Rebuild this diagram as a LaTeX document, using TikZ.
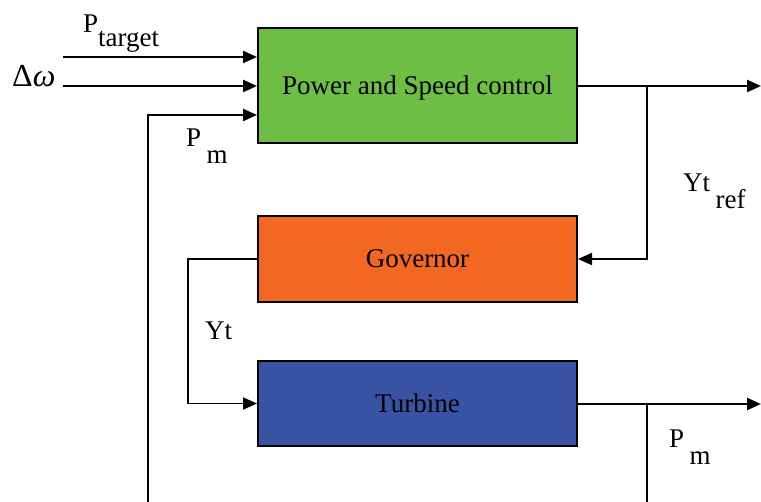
\documentclass[tikz,border=0pt]{standalone}
\usepackage{fontspec}
\setmainfont{Liberation Serif}
\usetikzlibrary{arrows.meta}

\definecolor{pscgreen}{HTML}{6DBE45}
\definecolor{govorange}{HTML}{F26722}
\definecolor{turbblue}{HTML}{3953A4}

\tikzset{
  blockbox/.style={draw, line width=2pt, minimum width=319pt, minimum height=#1, inner sep=0pt, text depth=0pt},
  tip/.tip={Triangle[length=14pt,width=12pt]},
  sig/.style={line width=2.4pt, -tip},
  branch/.style={line width=1.7pt},
}
% signal name with a lowered index
\newcommand{\sublbl}[2]{#1\hspace{0.2em}\raisebox{-0.62em}{#2}}

\begin{document}
\begin{tikzpicture}[x=1pt,y=-1pt,font=\fontsize{27}{32}\selectfont]
    \useasboundingbox (0,0) rectangle (761,502);
    % blocks
    \node[blockbox=115pt, fill=pscgreen] (psc) at (417.5,85.5) {Power and Speed control};
    \node[blockbox=86pt, fill=govorange] (gov) at (417.5,259) {Governor};
    \node[blockbox=85pt, fill=turbblue] (turb) at (417.5,403.5) {Turbine};
    % inputs of the controller
    \coordinate (ptin) at (63,57);
    \coordinate (dwin) at (63,86);
    \coordinate (pmin) at (148,502);
    \draw[sig] (ptin) -- (ptin -| psc.west);
    \draw[sig] (dwin) -- (dwin -| psc.west);
    \draw[sig] (pmin) |- ([yshift=-29.5pt]psc.west);
    % controller output and reference to the governor
    \coordinate (yout) at (761,86);
    \coordinate (ysplit) at (647,86);
    \draw[sig] (psc.east |- yout) -- (yout);
    \draw[branch, -tip] (ysplit) |- (gov.east);
    % governor to turbine
    \draw[branch, -tip] (gov.west) -- ++(-69,0) |- (turb.west);
    % turbine output
    \coordinate (pout) at (761,404);
    \coordinate (psplit) at (647,404);
    \coordinate (pdown) at (647,502);
    \draw[sig] (turb.east |- pout) -- (pout);
    \draw[branch] (psplit) -- (pdown);
    % labels
    \node[anchor=base west, inner sep=0pt] (ptlbl) at (83,33) {P\raisebox{-0.5em}{target}};
    \node[anchor=base west, inner sep=0pt, font=\fontsize{32}{36}\selectfont] (dwlbl) at (12,87) {Δ\textit{ω}};
    \node[anchor=base west, inner sep=0pt] (pmlbl) at (186,147) {\sublbl{P}{m}};
    \node[anchor=base west, inner sep=0pt] (yrlbl) at (683,192) {\sublbl{Yt}{ref}};
    \node[anchor=base west, inner sep=0pt] (ytlbl) at (205,340) {Yt};
    \node[anchor=base west, inner sep=0pt] (polbl) at (669,448) {\sublbl{P}{m}};
\end{tikzpicture}
\end{document}
